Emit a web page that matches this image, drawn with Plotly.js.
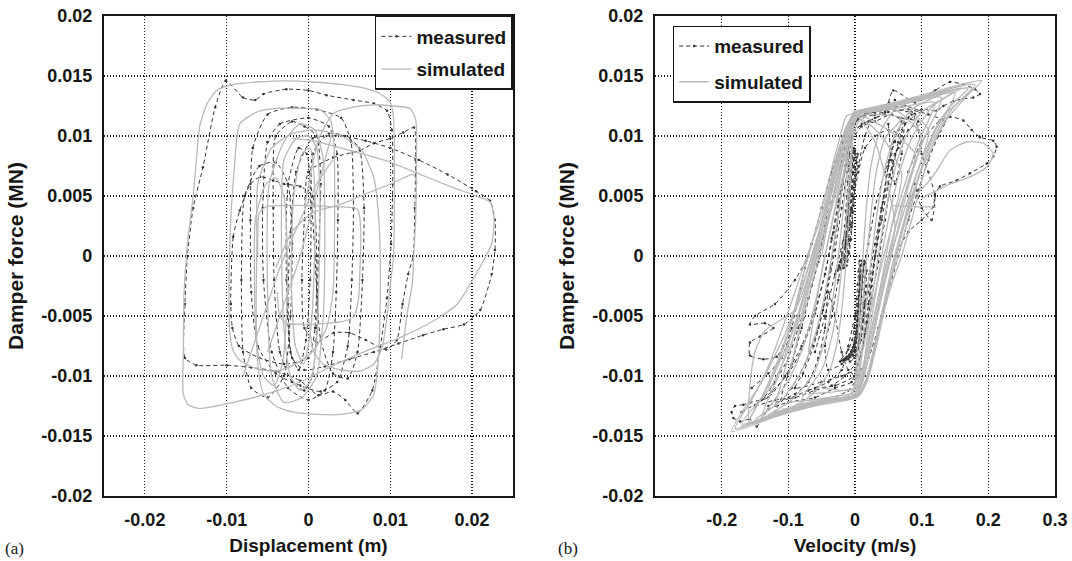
<!DOCTYPE html>
<html>
<head>
<meta charset="utf-8">
<script src="https://cdn.plot.ly/plotly-3.0.1.min.js"></script>
<style>html,body{margin:0;padding:0;background:#fff;}#chart{width:1072px;height:561px;}</style>
</head>
<body>
<div id="chart"></div>
<script>
// ---------- tick labels ----------
const forceTicks = [-0.02, -0.015, -0.01, -0.005, 0, 0.005, 0.01, 0.015, 0.02];
const forceTickText = ['-0.02', '-0.015', '-0.01', '-0.005', '0', '0.005', '0.01', '0.015', '0.02'];
const dispTicks = [-0.02, -0.01, 0, 0.01, 0.02];
const dispTickText = ['-0.02', '-0.01', '0', '0.01', '0.02'];
const velTicks = [-0.2, -0.1, 0, 0.1, 0.2, 0.3];
const velTickText = ['-0.2', '-0.1', '0', '0.1', '0.2', '0.3'];

// ---------- (a) displacement – measured ----------
const dispMeasX = [
 -0.0101,-0.0080,-0.0065,-0.0055,-0.0027,0.0000,0.0022,0.0055,0.0080,0.0096,0.0102,0.0103,0.0101,0.0096,0.0088,0.0078,0.0060,0.0045,0.0030,0.0012,-0.0010,-0.0040,-0.0070,-0.0100,-0.0137,-0.0151,-0.0151,-0.0148,-0.0141,-0.0129,-0.0114,-0.0101, null,
 -0.0015,0.0005,0.0040,0.0070,0.0100,0.0135,0.0170,0.0205,0.0222,0.0228,0.0228,0.0224,0.0210,0.0190,0.0165,0.0140,0.0110,0.0080,0.0050,0.0020,-0.0005,-0.0020,-0.0025,-0.0022,-0.0015, null,
 0.0000,0.0030,0.0063,0.0080,0.0100,0.0116,0.0129,0.0131,0.0130,0.0128,0.0122,0.0115,0.0108,0.0095,0.0070,0.0050,0.0031,0.0010,-0.0005,-0.0008,-0.0005,0.0000, null,
 -0.0095,-0.0092,-0.0084,-0.0071,-0.0059,-0.0043,-0.0030,-0.0010,0.0005,0.0010,0.0008,0.0000,-0.0030,-0.0060,-0.0085,-0.0093,-0.0095, null,
 -0.0040,-0.0020,-0.0005,0.0010,0.0015,0.0012,0.0010,0.0005,-0.0005,-0.0020,-0.0035,-0.0042,-0.0043,-0.0040, null,
 -0.0050,-0.0035,0.0000,0.0025,0.0035,0.0036,0.0034,0.0030,0.0020,0.0000,-0.0025,-0.0045,-0.0055,-0.0056,-0.0050, null,
 -0.0068,-0.0050,-0.0020,0.0010,0.0040,0.0052,0.0055,0.0053,0.0048,0.0035,0.0015,-0.0010,-0.0040,-0.0062,-0.0070,-0.0071,-0.0068, null,
 -0.0025,-0.0012,-0.0002,0.0003,0.0002,-0.0003,-0.0012,-0.0022,-0.0027,-0.0025, null,
 0.0005,0.0025,0.0045,0.0062,0.0068,0.0066,0.0060,0.0048,0.0030,0.0015,0.0008,0.0005, null,
 -0.0078,-0.0060,-0.0040,-0.0025,-0.0020,-0.0022,-0.0030,-0.0050,-0.0070,-0.0080,-0.0082,-0.0078
];
const dispMeasY = [
 0.0146,0.0132,0.0130,0.0135,0.0139,0.0138,0.0134,0.0130,0.0127,0.0121,0.0105,0.0060,0.0010,-0.0035,-0.0075,-0.0112,-0.0131,-0.0120,-0.0113,-0.0116,-0.0104,-0.0096,-0.0093,-0.0091,-0.0091,-0.0085,-0.0040,0.0000,0.0040,0.0074,0.0124,0.0146, null,
 0.0070,0.0098,0.0100,0.0096,0.0090,0.0080,0.0068,0.0054,0.0046,0.0030,0.0005,-0.0015,-0.0045,-0.0057,-0.0061,-0.0066,-0.0073,-0.0080,-0.0086,-0.0092,-0.0095,-0.0085,-0.0040,0.0020,0.0070, null,
 0.0070,0.0082,0.0088,0.0094,0.0098,0.0103,0.0107,0.0080,0.0040,0.0000,-0.0015,-0.0040,-0.0070,-0.0078,-0.0070,-0.0064,-0.0064,-0.0072,-0.0060,-0.0020,0.0030,0.0070, null,
 -0.0040,0.0016,0.0038,0.0060,0.0066,0.0063,0.0060,0.0058,0.0050,0.0000,-0.0060,-0.0085,-0.0090,-0.0085,-0.0075,-0.0060,-0.0040, null,
 0.0100,0.0112,0.0108,0.0100,0.0060,0.0000,-0.0060,-0.0100,-0.0112,-0.0105,-0.0080,-0.0020,0.0040,0.0100, null,
 0.0095,0.0110,0.0115,0.0108,0.0085,0.0030,-0.0030,-0.0080,-0.0112,-0.0120,-0.0110,-0.0080,-0.0020,0.0040,0.0095, null,
 0.0090,0.0118,0.0124,0.0122,0.0115,0.0095,0.0040,-0.0020,-0.0075,-0.0105,-0.0113,-0.0108,-0.0098,-0.0075,-0.0030,0.0030,0.0090, null,
 0.0060,0.0090,0.0085,0.0040,-0.0020,-0.0070,-0.0095,-0.0080,-0.0020,0.0060, null,
 0.0085,0.0102,0.0100,0.0090,0.0040,-0.0020,-0.0080,-0.0102,-0.0098,-0.0070,0.0000,0.0085, null,
 0.0050,0.0075,0.0078,0.0060,0.0010,-0.0050,-0.0100,-0.0118,-0.0110,-0.0080,-0.0020,0.0050
];

// ---------- (a) displacement – simulated ----------
const dispSimX = [
 -0.0020,0.0006,0.0051,0.0092,0.0133,0.0173,0.0205,0.0222,0.0227,0.0224,0.0220,0.0210,0.0198,0.0182,0.0153,0.0112,0.0071,0.0031,-0.0010,-0.0051,-0.0092,-0.0133,-0.0147,-0.0153,-0.0153,-0.0152,-0.0148,-0.0141,-0.0137,-0.0133,-0.0124,-0.0112,-0.0092,-0.0063,-0.0026,0.0006,0.0039,0.0067,0.0088,0.0100,0.0104,0.0105,0.0104,0.0100,0.0096,0.0090,0.0080,0.0063,0.0039,0.0018,0.0006,0.0000, null,
 -0.0005,0.0006,0.0014,0.0031,0.0055,0.0080,0.0104,0.0124,0.0131,0.0132,0.0131,0.0129,0.0127,0.0120,0.0114, null,
 -0.0062,-0.0060,-0.0052,-0.0031,-0.0002,0.0031,0.0060,0.0064,0.0063,0.0061,0.0055,0.0039,-0.0002,-0.0027,-0.0035,-0.0038, null,
 -0.0084,-0.0063,-0.0039,-0.0010,0.0014,0.0027,0.0031,0.0032,0.0030,0.0022,0.0006,-0.0018,-0.0039,-0.0063,-0.0084,-0.0092,-0.0096,-0.0097,-0.0095,-0.0091,-0.0084, null,
 -0.0062,-0.0045,-0.0020,0.0010,0.0040,0.0065,0.0080,0.0086,0.0088,0.0086,0.0080,0.0065,0.0040,0.0010,-0.0020,-0.0040,-0.0055,-0.0062,-0.0064,-0.0063,-0.0062, null,
 -0.0030,-0.0015,0.0000,0.0010,0.0014,0.0013,0.0010,0.0002,-0.0010,-0.0022,-0.0030,-0.0033,-0.0030, null,
 -0.0048,-0.0030,-0.0010,0.0008,0.0018,0.0020,0.0018,0.0010,-0.0008,-0.0030,-0.0045,-0.0050,-0.0048, null,
 -0.0018,-0.0008,0.0002,0.0008,0.0007,0.0003,-0.0006,-0.0016,-0.0021,-0.0018, null,
 -0.0065,-0.0052,-0.0040,-0.0030,-0.0026,-0.0027,-0.0032,-0.0042,-0.0055,-0.0064,-0.0066,-0.0065, null,
 -0.0050,-0.0030,-0.0010,0.0005,0.0020,0.0030, null,
 -0.0080,-0.0060,-0.0035,-0.0010,0.0010,0.0030, null,
 -0.0040,-0.0020,0.0005,0.0039,0.0071,0.0104,0.0128,0.0133
];
const dispSimY = [
 0.0098,0.0096,0.0088,0.0080,0.0069,0.0058,0.0050,0.0045,0.0030,0.0010,0.0004,-0.0009,-0.0023,-0.0040,-0.0054,-0.0068,-0.0079,-0.0091,-0.0105,-0.0115,-0.0122,-0.0127,-0.0124,-0.0115,-0.0080,-0.0030,0.0010,0.0050,0.0080,0.0108,0.0127,0.0138,0.0143,0.0145,0.0146,0.0145,0.0143,0.0140,0.0135,0.0128,0.0115,0.0065,0.0000,-0.0024,-0.0051,-0.0076,-0.0090,-0.0096,-0.0095,-0.0090,-0.0079,-0.0050, null,
 0.0040,0.0080,0.0100,0.0119,0.0124,0.0126,0.0125,0.0123,0.0114,0.0080,0.0030,0.0004,-0.0023,-0.0051,-0.0086, null,
 0.0000,0.0036,0.0041,0.0042,0.0042,0.0041,0.0039,0.0020,-0.0010,-0.0037,-0.0051,-0.0055,-0.0057,-0.0056,-0.0050,-0.0030, null,
 0.0110,0.0120,0.0123,0.0123,0.0122,0.0113,0.0094,0.0040,-0.0030,-0.0060,-0.0079,-0.0091,-0.0096,-0.0094,-0.0087,-0.0079,-0.0065,-0.0020,0.0030,0.0070,0.0110, null,
 0.0060,0.0090,0.0102,0.0105,0.0100,0.0088,0.0065,0.0030,-0.0020,-0.0080,-0.0115,-0.0128,-0.0132,-0.0132,-0.0130,-0.0125,-0.0115,-0.0090,-0.0040,0.0010,0.0060, null,
 0.0080,0.0098,0.0100,0.0090,0.0050,-0.0010,-0.0070,-0.0105,-0.0112,-0.0100,-0.0060,0.0010,0.0080, null,
 0.0060,0.0095,0.0110,0.0105,0.0080,0.0020,-0.0050,-0.0100,-0.0118,-0.0122,-0.0100,-0.0030,0.0060, null,
 0.0050,0.0085,0.0090,0.0050,-0.0010,-0.0060,-0.0090,-0.0075,-0.0020,0.0050, null,
 0.0030,0.0060,0.0065,0.0050,0.0000,-0.0050,-0.0090,-0.0108,-0.0100,-0.0070,-0.0020,0.0030, null,
 -0.0080,-0.0040,0.0000,0.0040,0.0080,0.0105, null,
 -0.0100,-0.0060,-0.0010,0.0030,0.0060,0.0080, null,
 -0.0010,0.0020,0.0036,0.0043,0.0052,0.0061,0.0068,0.0060
];

// ---------- (b) velocity – measured ----------
const velMeasX = [
 -0.1575,-0.1675,-0.1800,-0.1850,-0.1825,-0.1725,-0.1575,-0.1475,-0.1300,-0.1000,-0.0600,-0.0300,-0.0050,0.0050,0.0150,0.0250,0.0350,0.0450,0.0550,0.0650,0.0800,0.1000,0.1225,0.1325,0.1475,0.1625,0.1775,0.1875,0.1800,0.1625,0.1425,0.1200,0.0900,0.0575,0.0450,0.0300,0.0100,-0.0050,-0.0150,-0.0250,-0.0350,-0.0450,-0.0600,-0.0800,-0.1050,-0.1300,-0.1575, null,
 0.0800,0.1000,0.1275,0.1425,0.1625,0.1750,0.1875,0.2075,0.2125,0.2075,0.1975,0.1725,0.1525,0.1275,0.1200,0.1175,0.1000,0.0800,0.0600, null,
 -0.1075,-0.1175,-0.1375,-0.1575,-0.1575,-0.1425,-0.1225,-0.1350,-0.1575,-0.1500,-0.1200,-0.0900,-0.0700, null,
 -0.1200,-0.0800,-0.0400,-0.0100,0.0050,0.0120,0.0200,0.0300,0.0400,0.0500,0.0600,0.0700,0.0550,0.0300,0.0100,-0.0050,-0.0120,-0.0200,-0.0300,-0.0420,-0.0550,-0.0750,-0.0950,-0.1200, null,
 -0.0900,-0.0500,-0.0200,0.0000,0.0100,0.0180,0.0250,0.0330,0.0420,0.0520,0.0650,0.0850,0.1000,0.0750,0.0400,0.0150,0.0000,-0.0100,-0.0180,-0.0270,-0.0370,-0.0480,-0.0620,-0.0780,-0.0900, null,
 -0.1550,-0.1300,-0.1100,-0.0950,-0.0850,-0.0750,-0.0650,-0.0500,-0.0350,-0.0200,-0.0050,0.0150,0.0400,0.0600, null,
 0.0500,0.0550,0.0600,0.0700,0.0750,0.0850,0.0950,0.1000,0.1100,0.1200,0.1150,0.1000,0.0900, null,
 -0.1300,-0.1100,-0.0900,-0.0700,-0.0550,-0.0450,-0.0400,-0.0300,-0.0200,-0.0100,0.0000, null,
 -0.150,-0.120,-0.090,-0.060,-0.035,-0.015,0.000,0.008,0.015,0.022,0.030,0.040,0.052,0.065,0.080,0.095,0.070,0.045,0.020,0.000,-0.010,-0.020,-0.032,-0.045,-0.060,-0.080,-0.100,-0.125,-0.150, null,
 -0.060,-0.030,0.000,0.020,0.035,0.050,0.065,0.080,0.095,0.110,0.125,0.135,0.110,0.080,0.050,0.030,0.015,0.005,-0.005,-0.015,-0.030,-0.045,-0.060, null,
 -0.170,-0.140,-0.120,-0.100,-0.085,-0.070,-0.055,-0.045,-0.035,-0.025,-0.015,0.000,0.030, null,
 -0.040,-0.020,0.000,0.010,0.020,0.030,0.040,0.050,0.060,0.070,0.050,0.030,0.015,0.005,-0.005,-0.015,-0.025,-0.035,-0.045,-0.040, null,
 -0.110,-0.070,-0.040,-0.020,-0.010,0.000,0.010,0.020,0.030,0.045,0.060,0.075,0.090,0.060,0.030,0.005,-0.010,-0.022,-0.035,-0.050,-0.065,-0.080,-0.095,-0.110, null,
 -0.0075,-0.0090,-0.0105,-0.0120,-0.0135,-0.0150,-0.0170,-0.0195,-0.0225,-0.0270,
 -0.0220,-0.0175,-0.0140,-0.0115,-0.0095,-0.0080,-0.0065,-0.0050,-0.0035,-0.0020,
 0.0000,-0.0015,-0.0030,-0.0045,-0.0060,-0.0075,-0.0095,-0.0120,-0.0150,-0.0180,
 -0.0125,-0.0090,-0.0060,-0.0040,-0.0020,-0.0005,0.0010,0.0025,0.0040,
 -0.0040,-0.0055,-0.0070,-0.0085,-0.0100,-0.0115,-0.0135,-0.0160,-0.0190,-0.0235,
 -0.0260,-0.0205,-0.0160,-0.0130,-0.0110,-0.0092,-0.0078,-0.0062,-0.0048,-0.0030,
 0.0020,0.0005,-0.0010,-0.0025,-0.0040,-0.0055,-0.0075,-0.0100,-0.0130,-0.0165,
 -0.0190,-0.0150,-0.0120,-0.0098,-0.0080,-0.0065,-0.0050,-0.0035,-0.0018,0.0000, null,
 0.0175,0.0165,0.0150,0.0135,0.0115,0.0090,0.0060,0.0025,-0.0010,-0.0075,
 -0.0150,-0.0050,0.0000,0.0035,0.0060,0.0080,0.0095,0.0110,0.0125,0.0140,
 0.0080,0.0070,0.0058,0.0045,0.0028,0.0005,-0.0030,-0.0080,-0.0150,-0.0225,
 -0.0100,-0.0040,-0.0010,0.0010,0.0025,0.0040,0.0055,0.0070,
 0.0160,0.0150,0.0138,0.0122,0.0103,0.0080,0.0050,0.0015,-0.0030,-0.0100,
 -0.0180,-0.0080,-0.0020,0.0015,0.0042,0.0065,0.0082,0.0098,0.0112,0.0128,
 0.0105,0.0095,0.0082,0.0068,0.0050,0.0028,-0.0005,-0.0050,-0.0120,-0.0200,
 -0.0060,-0.0015,0.0010,0.0030,0.0045,0.0060,0.0075,0.0090
];
const velMeasY = [
 -0.0122,-0.0124,-0.0125,-0.0130,-0.0135,-0.0138,-0.0136,-0.0142,-0.0128,-0.0122,-0.0118,-0.0110,-0.0105,-0.0090,-0.0065,-0.0035,-0.0005,0.0030,0.0065,0.0095,0.0115,0.0122,0.0121,0.0125,0.0129,0.0131,0.0132,0.0135,0.0139,0.0143,0.0145,0.0138,0.0128,0.0138,0.0120,0.0115,0.0110,0.0100,0.0075,0.0045,0.0015,-0.0015,-0.0045,-0.0075,-0.0100,-0.0118,-0.0122, null,
 0.0070,0.0095,0.0113,0.0116,0.0113,0.0105,0.0099,0.0096,0.0091,0.0083,0.0077,0.0069,0.0063,0.0058,0.0051,0.0041,0.0030,0.0020,0.0000, null,
 -0.0075,-0.0084,-0.0086,-0.0083,-0.0072,-0.0067,-0.0060,-0.0056,-0.0057,-0.0050,-0.0040,-0.0020,0.0000, null,
 -0.0130,-0.0125,-0.0120,-0.0112,-0.0100,-0.0075,-0.0040,0.0000,0.0040,0.0075,0.0100,0.0112,0.0118,0.0112,0.0108,0.0095,0.0070,0.0040,0.0005,-0.0030,-0.0060,-0.0090,-0.0110,-0.0130, null,
 -0.0110,-0.0105,-0.0100,-0.0095,-0.0080,-0.0055,-0.0025,0.0010,0.0045,0.0080,0.0105,0.0118,0.0120,0.0125,0.0122,0.0118,0.0110,0.0090,0.0060,0.0025,-0.0010,-0.0045,-0.0075,-0.0098,-0.0110, null,
 -0.0110,-0.0098,-0.0085,-0.0060,-0.0035,-0.0010,0.0010,0.0040,0.0070,0.0095,0.0110,0.0118,0.0125,0.0130, null,
 0.0110,0.0080,0.0060,0.0085,0.0110,0.0120,0.0105,0.0085,0.0070,0.0050,0.0030,0.0040,0.0060, null,
 -0.0125,-0.0120,-0.0115,-0.0105,-0.0085,-0.0060,-0.0030,-0.0050,-0.0080,-0.0095,-0.0100, null,
 -0.0125,-0.0120,-0.0118,-0.0112,-0.0108,-0.0100,-0.0090,-0.0065,-0.0040,-0.0015,0.0010,0.0040,0.0068,0.0090,0.0105,0.0112,0.0115,0.0118,0.0112,0.0105,0.0085,0.0055,0.0020,-0.0015,-0.0048,-0.0078,-0.0098,-0.0113,-0.0125, null,
 -0.0110,-0.0108,-0.0100,-0.0085,-0.0060,-0.0030,0.0000,0.0030,0.0055,0.0080,0.0100,0.0112,0.0118,0.0122,0.0120,0.0118,0.0100,0.0075,0.0050,0.0020,-0.0015,-0.0050,-0.0080, null,
 -0.0130,-0.0120,-0.0105,-0.0085,-0.0060,-0.0035,-0.0005,0.0025,0.0055,0.0080,0.0100,0.0112,0.0118, null,
 -0.0095,-0.0090,-0.0080,-0.0060,-0.0030,0.0000,0.0030,0.0060,0.0085,0.0100,0.0105,0.0100,0.0090,0.0070,0.0040,0.0010,-0.0020,-0.0050,-0.0075,-0.0095, null,
 -0.0120,-0.0112,-0.0105,-0.0095,-0.0075,-0.0050,-0.0020,0.0010,0.0040,0.0070,0.0095,0.0110,0.0118,0.0122,0.0120,0.0115,0.0100,0.0075,0.0045,0.0010,-0.0025,-0.0060,-0.0090,-0.0120, null,
 0.0085,0.0075,0.0062,0.0050,0.0038,0.0025,0.0013,0.0003,-0.0005,-0.0012,
 -0.0010,-0.0002,0.0008,0.0020,0.0033,0.0046,0.0058,0.0070,0.0082,0.0090,
 0.0085,0.0074,0.0062,0.0050,0.0038,0.0026,0.0014,0.0004,-0.0004,-0.0010,
 -0.0008,0.0002,0.0014,0.0028,0.0042,0.0055,0.0067,0.0078,0.0085,
 0.0088,0.0078,0.0066,0.0054,0.0042,0.0030,0.0018,0.0008,0.0000,-0.0008,
 -0.0012,-0.0004,0.0006,0.0016,0.0028,0.0040,0.0052,0.0064,0.0076,0.0086,
 0.0082,0.0072,0.0060,0.0048,0.0036,0.0024,0.0013,0.0004,-0.0004,-0.0010,
 -0.0008,0.0000,0.0010,0.0022,0.0034,0.0046,0.0058,0.0070,0.0080,0.0088, null,
 -0.0012,-0.0025,-0.0038,-0.0050,-0.0061,-0.0070,-0.0077,-0.0082,-0.0085,-0.0088,
 -0.0086,-0.0082,-0.0076,-0.0068,-0.0058,-0.0046,-0.0034,-0.0022,-0.0012,-0.0004,
 -0.0008,-0.0020,-0.0033,-0.0046,-0.0058,-0.0068,-0.0076,-0.0082,-0.0086,-0.0088,
 -0.0078,-0.0070,-0.0060,-0.0048,-0.0036,-0.0024,-0.0013,-0.0004,
 -0.0006,-0.0018,-0.0030,-0.0043,-0.0055,-0.0065,-0.0073,-0.0079,-0.0083,-0.0086,
 -0.0087,-0.0084,-0.0079,-0.0072,-0.0063,-0.0052,-0.0040,-0.0028,-0.0017,-0.0007,
 -0.0004,-0.0016,-0.0028,-0.0041,-0.0053,-0.0063,-0.0072,-0.0079,-0.0084,-0.0087,
 -0.0080,-0.0074,-0.0065,-0.0054,-0.0042,-0.0030,-0.0018,-0.0008
];

// ---------- (b) velocity – simulated ----------
const velSimX = [
 -0.185,-0.120,-0.060,0.000,0.010,0.020,0.032,0.045,0.060,0.078,0.100,0.130,0.190,0.120,0.060,0.000,-0.010,-0.020,-0.032,-0.046,-0.062,-0.080,-0.105,-0.140,-0.185, null,
 -0.160,-0.100,-0.040,0.005,0.018,0.030,0.042,0.055,0.070,0.090,0.115,0.150,0.100,0.050,0.005,-0.006,-0.016,-0.028,-0.042,-0.058,-0.076,-0.100,-0.130,-0.160, null,
 -0.130,-0.080,-0.030,-0.008,0.002,0.012,0.024,0.038,0.055,0.075,0.095,0.120,0.080,0.040,-0.012,-0.022,-0.034,-0.048,-0.064,-0.082,-0.100,-0.130, null,
 -0.100,-0.050,-0.002,0.010,0.022,0.035,0.050,0.068,0.090,0.050,0.005,-0.005,-0.016,-0.030,-0.046,-0.064,-0.082,-0.100, null,
 -0.170,-0.110,-0.050,-0.003,0.008,0.018,0.030,0.044,0.060,0.080,0.100,0.060,0.010,-0.002,-0.012,-0.024,-0.038,-0.054,-0.072,-0.095,-0.125,-0.170, null,
 -0.070,-0.030,0.000,0.012,0.026,0.040,0.055,0.070,0.040,0.008,-0.004,-0.016,-0.030,-0.045,-0.060,-0.070, null,
 -0.140,-0.090,-0.040,0.002,0.014,0.026,0.040,0.060,0.030,0.000,-0.010,-0.022,-0.036,-0.052,-0.070,-0.092,-0.115,-0.140, null,
 -0.050,-0.020,0.006,0.020,0.034,0.048,0.064,0.082,0.105,0.130,0.080,0.030,0.000,-0.012,-0.026,-0.040,-0.050, null,
 0.090,0.1075,0.1225,0.1425,0.1675,0.1925,0.2075,0.1975,0.1725,0.1425,0.1175,0.100, null,
 0.055,0.090,0.122, null,
 -0.160,-0.158,-0.150,-0.135,-0.110,-0.090,-0.075,-0.060,-0.045,-0.030,-0.015,0.000, null,
 -0.120,-0.070,-0.020,0.008,0.020,0.034,0.050,0.066,0.085,0.110,0.070,0.020,-0.004,-0.018,-0.030,-0.044,-0.060,-0.078,-0.098,-0.120, null,
 -0.090,-0.040,0.004,0.016,0.028,0.042,0.058,0.076,0.100,0.135,0.180,0.120,0.060,0.002,-0.008,-0.018,-0.030,-0.045,-0.062,-0.078,-0.090, null,
 -0.150,-0.090,-0.030,-0.005,0.000,0.004,0.008,0.012,0.017,0.024,0.035,0.060,0.110,0.060,0.010,0.000,-0.003,-0.006,-0.009,-0.013,-0.018,-0.026,-0.040,-0.070,-0.110,-0.150, null,
 -0.170,-0.100,-0.040,-0.002,0.006,0.012,0.018,0.025,0.033,0.043,0.058,0.085,0.140,0.080,0.020,-0.002,-0.007,-0.012,-0.018,-0.025,-0.033,-0.044,-0.062,-0.095,-0.135,-0.170, null,
 -0.110,-0.050,0.000,0.010,0.018,0.026,0.035,0.045,0.057,0.073,0.100,0.160,0.100,0.040,0.000,-0.008,-0.016,-0.025,-0.035,-0.046,-0.060,-0.080,-0.110,-0.150, null,
 -0.180,-0.110,-0.050,0.004,0.018,0.030,0.042,0.056,0.070,0.085,0.100,0.118,0.145,0.175,0.120,0.060,0.002,-0.012,-0.025,-0.038,-0.052,-0.072,-0.090,-0.110,-0.130,-0.155,-0.180, null,
 -0.080,-0.030,-0.003,0.004,0.009,0.013,0.018,0.024,0.032,0.045,0.070,0.030,0.000,-0.004,-0.009,-0.013,-0.018,-0.025,-0.035,-0.050,-0.080, null,
 -0.140,-0.080,-0.020,0.003,0.012,0.020,0.030,0.040,0.052,0.066,0.085,0.115,0.150,0.090,0.030,0.001,-0.009,-0.018,-0.030,-0.045,-0.060,-0.078,-0.100,-0.140, null,
 -0.160,-0.100,-0.040,0.003,0.016,0.028,0.040,0.052,0.065,0.080,0.096,0.115,0.140,0.170,0.110,0.050,0.001,-0.010,-0.022,-0.035,-0.050,-0.065,-0.082,-0.100,-0.120,-0.140,-0.160
];
const velSimY = [
 -0.0146,-0.0134,-0.0125,-0.0118,-0.0108,-0.0082,-0.0050,-0.0018,0.0012,0.0045,0.0080,0.0115,0.0146,0.0137,0.0128,0.0119,0.0106,0.0088,0.0064,0.0035,0.0005,-0.0028,-0.0065,-0.0105,-0.0146, null,
 -0.0140,-0.0130,-0.0122,-0.0117,-0.0102,-0.0075,-0.0043,-0.0010,0.0022,0.0058,0.0095,0.0136,0.0130,0.0124,0.0118,0.0104,0.0085,0.0060,0.0030,-0.0002,-0.0035,-0.0072,-0.0108,-0.0140, null,
 -0.0132,-0.0125,-0.0119,-0.0116,-0.0104,-0.0078,-0.0046,-0.0012,0.0024,0.0060,0.0095,0.0128,0.0125,0.0121,0.0117,0.0100,0.0075,0.0044,0.0012,-0.0025,-0.0065,-0.0110, null,
 -0.0122,-0.0119,-0.0116,-0.0100,-0.0070,-0.0036,0.0000,0.0040,0.0085,0.0105,0.0117,0.0102,0.0080,0.0050,0.0016,-0.0022,-0.0060,-0.0100, null,
 -0.0140,-0.0130,-0.0122,-0.0117,-0.0105,-0.0080,-0.0048,-0.0014,0.0022,0.0062,0.0100,0.0122,0.0120,0.0110,0.0092,0.0068,0.0038,0.0005,-0.0032,-0.0072,-0.0108,-0.0140, null,
 -0.0115,-0.0113,-0.0110,-0.0092,-0.0058,-0.0020,0.0025,0.0068,0.0100,0.0114,0.0098,0.0072,0.0038,0.0000,-0.0045,-0.0080, null,
 -0.0136,-0.0128,-0.0121,-0.0117,-0.0100,-0.0068,-0.0030,0.0025,0.0095,0.0118,0.0104,0.0082,0.0052,0.0018,-0.0020,-0.0060,-0.0100,-0.0136, null,
 -0.0110,-0.0112,-0.0110,-0.0085,-0.0050,-0.0015,0.0022,0.0062,0.0100,0.0132,0.0129,0.0123,0.0120,0.0100,0.0068,0.0030,0.0000, null,
 0.0050,0.0060,0.0071,0.0088,0.0095,0.0094,0.0085,0.0074,0.0066,0.0060,0.0053,0.0048, null,
 0.0042,0.0041,0.0041, null,
 -0.0135,-0.0110,-0.0080,-0.0062,-0.0053,-0.0045,-0.0025,0.0005,0.0040,0.0075,0.0105,0.0122, null,
 -0.0130,-0.0124,-0.0119,-0.0115,-0.0100,-0.0070,-0.0030,0.0010,0.0055,0.0105,0.0124,0.0120,0.0116,0.0098,0.0072,0.0040,0.0005,-0.0035,-0.0080,-0.0125, null,
 -0.0124,-0.0119,-0.0117,-0.0104,-0.0078,-0.0044,-0.0008,0.0030,0.0072,0.0112,0.0143,0.0136,0.0127,0.0120,0.0108,0.0090,0.0064,0.0030,-0.0008,-0.0048,-0.0078, null,
 -0.0138,-0.0126,-0.0120,-0.0117,-0.0105,-0.0075,-0.0035,0.0000,0.0040,0.0075,0.0100,0.0122,0.0134,0.0127,0.0121,0.0118,0.0100,0.0070,0.0035,0.0000,-0.0035,-0.0070,-0.0098,-0.0118,-0.0130,-0.0138, null,
 -0.0142,-0.0128,-0.0121,-0.0117,-0.0100,-0.0068,-0.0032,0.0000,0.0035,0.0068,0.0098,0.0122,0.0138,0.0129,0.0121,0.0118,0.0100,0.0070,0.0035,0.0000,-0.0035,-0.0068,-0.0098,-0.0120,-0.0134,-0.0142, null,
 -0.0128,-0.0121,-0.0117,-0.0102,-0.0070,-0.0034,0.0000,0.0034,0.0066,0.0095,0.0120,0.0140,0.0132,0.0124,0.0119,0.0102,0.0070,0.0034,0.0000,-0.0034,-0.0066,-0.0096,-0.0120,-0.0136, null,
 -0.0144,-0.0130,-0.0121,-0.0117,-0.0105,-0.0080,-0.0050,-0.0022,0.0000,0.0030,0.0062,0.0095,0.0122,0.0140,0.0135,0.0126,0.0120,0.0108,0.0088,0.0060,0.0030,0.0000,-0.0030,-0.0062,-0.0092,-0.0120,-0.0144, null,
 -0.0120,-0.0117,-0.0114,-0.0095,-0.0060,-0.0030,0.0000,0.0035,0.0070,0.0098,0.0115,0.0118,0.0116,0.0098,0.0065,0.0032,0.0000,-0.0035,-0.0068,-0.0095,-0.0120, null,
 -0.0136,-0.0125,-0.0119,-0.0116,-0.0100,-0.0070,-0.0035,0.0000,0.0035,0.0068,0.0098,0.0124,0.0138,0.0130,0.0122,0.0119,0.0104,0.0078,0.0040,0.0000,-0.0040,-0.0076,-0.0104,-0.0136, null,
 -0.0140,-0.0127,-0.0120,-0.0117,-0.0104,-0.0078,-0.0048,-0.0022,0.0000,0.0032,0.0066,0.0098,0.0123,0.0140,0.0133,0.0125,0.0120,0.0108,0.0085,0.0058,0.0028,0.0000,-0.0030,-0.0062,-0.0093,-0.0118,-0.0140
];

// ---------- styling ----------
const FONT = 'Liberation Sans, Arial, Helvetica, sans-serif';
const INK = '#161616';
const measColor = '#363636';
const simColor = '#b9b9b9';

function measTrace(x, y, xa, ya, leg) {
  return {x: x, y: y, xaxis: xa, yaxis: ya, type: 'scatter', mode: 'lines+markers',
    name: 'measured', legend: leg, legendgroup: leg + 'm', connectgaps: false,
    line: {color: measColor, width: 1, dash: '4px,3px', shape: 'spline', smoothing: 0.6},
    marker: {color: measColor, size: 2.5}};
}
function simTrace(x, y, xa, ya, leg) {
  return {x: x, y: y, xaxis: xa, yaxis: ya, type: 'scatter', mode: 'lines',
    name: 'simulated', legend: leg, legendgroup: leg + 's', connectgaps: false,
    line: {color: simColor, width: 1.3, shape: 'spline', smoothing: 0.6}};
}

const data = [
  measTrace(dispMeasX, dispMeasY, 'x', 'y', 'legend'),
  simTrace(dispSimX, dispSimY, 'x', 'y', 'legend'),
  measTrace(velMeasX, velMeasY, 'x2', 'y2', 'legend2'),
  simTrace(velSimX, velSimY, 'x2', 'y2', 'legend2')
];

const tickFont = {family: FONT, size: 18, weight: 'bold', color: INK};
const titleFont = {family: FONT, size: 19, weight: 'bold', color: INK};
const yTitleFont = {family: FONT, size: 21, weight: 'bold', color: INK};
const baseAxis = {
  showline: true, mirror: true, linecolor: INK, linewidth: 2,
  showgrid: true, gridcolor: INK, griddash: '1.5px,1.5px', gridwidth: 1.2,
  zeroline: false, ticks: '', tickfont: tickFont, ticklabelstandoff: 6,
  fixedrange: true
};
const yDomain = [0.1159, 0.9715];

const layout = {
  width: 1072, height: 561,
  margin: {l: 0, r: 0, t: 0, b: 0},
  paper_bgcolor: '#ffffff', plot_bgcolor: '#ffffff',
  font: {family: FONT, color: INK},
  xaxis: Object.assign({}, baseAxis, {domain: [0.0970, 0.4785], range: [-0.025, 0.025], anchor: 'y',
    tickmode: 'array', tickvals: dispTicks, ticktext: dispTickText,
    title: {text: 'Displacement (m)', font: titleFont, standoff: 10}}),
  yaxis: Object.assign({}, baseAxis, {domain: yDomain, range: [-0.02, 0.02], anchor: 'x',
    tickmode: 'array', tickvals: forceTicks, ticktext: forceTickText,
    title: {text: 'Damper force (MN)', font: yTitleFont, standoff: 12}}),
  xaxis2: Object.assign({}, baseAxis, {domain: [0.6110, 0.9841], range: [-0.3, 0.3], anchor: 'y2',
    tickmode: 'array', tickvals: velTicks, ticktext: velTickText,
    title: {text: 'Velocity (m/s)', font: titleFont, standoff: 10}}),
  yaxis2: Object.assign({}, baseAxis, {domain: yDomain, range: [-0.02, 0.02], anchor: 'x2',
    tickmode: 'array', tickvals: forceTicks, ticktext: forceTickText,
    title: {text: 'Damper force (MN)', font: yTitleFont, standoff: 12}}),
  showlegend: true,
  legend: {x: 0.4785, xanchor: 'right', y: 0.9715, yanchor: 'top',
    bgcolor: '#ffffff', bordercolor: INK, borderwidth: 1.5,
    font: {family: FONT, size: 19, weight: 'bold', color: INK},
    traceorder: 'grouped', tracegroupgap: 5},
  legend2: {x: 0.6275, xanchor: 'left', y: 0.9542, yanchor: 'top',
    bgcolor: '#ffffff', bordercolor: INK, borderwidth: 1.5,
    font: {family: FONT, size: 19, weight: 'bold', color: INK},
    traceorder: 'grouped', tracegroupgap: 8},
  annotations: [
    {text: '(a)', xref: 'paper', yref: 'paper', x: 0.003, y: 0.023, xanchor: 'left', yanchor: 'middle',
     showarrow: false, font: {family: 'Liberation Serif, Times New Roman, serif', size: 17, color: INK}},
    {text: '(b)', xref: 'paper', yref: 'paper', x: 0.519, y: 0.023, xanchor: 'left', yanchor: 'middle',
     showarrow: false, font: {family: 'Liberation Serif, Times New Roman, serif', size: 17, color: INK}}
  ]
};

Plotly.newPlot('chart', data, layout, {displayModeBar: false, staticPlot: true});
</script>
</body>
</html>
